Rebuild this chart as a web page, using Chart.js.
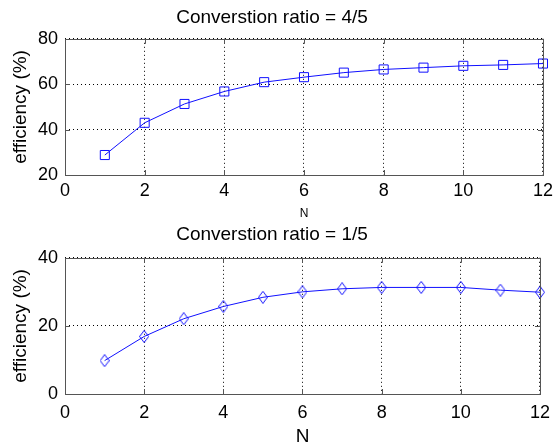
<!DOCTYPE html>
<html>
<head>
<meta charset="utf-8">
<script src="https://cdn.jsdelivr.net/npm/chart.js@4.4.0/dist/chart.umd.min.js"></script>
<style>
  body { margin: 0; background: #fff; }
  #wrap { position: relative; width: 558px; height: 448px; overflow: hidden; }
  canvas { position: absolute; left: 0; }
  #topChart { top: 0; }
  #bottomChart { top: 215px; }
</style>
</head>
<body>
<div id="wrap">
  <canvas id="topChart" width="558" height="224"></canvas>
  <canvas id="bottomChart" width="558" height="233"></canvas>
</div>
<script>
var nValues = [1, 2, 3, 4, 5, 6, 7, 8, 9, 10, 11, 12];
var effTop = [28.8, 43.0, 51.3, 56.8, 60.9, 63.1, 65.1, 66.5, 67.3, 68.1, 68.5, 69.1];
var effBottom = [9.8, 16.9, 22.1, 25.7, 28.4, 30.0, 30.9, 31.3, 31.3, 31.3, 30.5, 29.9];
var topTitle = "Converstion ratio = 4/5";
var bottomTitle = "Converstion ratio = 1/5";
var yLabel = "efficiency (%)";
var xLabel = "N";

var FONT = "'Liberation Sans', Arial, Helvetica, sans-serif";
var BLUE = "#1010ff";

// matlab style diamond marker (taller than wide)
function diamondMarker() {
    var c = document.createElement("canvas");
    c.width = 10;
    c.height = 13;
    var g = c.getContext("2d");
    g.strokeStyle = BLUE;
    g.lineWidth = 1;
    g.beginPath();
    g.moveTo(5, 0.5);
    g.lineTo(9.5, 6.5);
    g.lineTo(5, 12.5);
    g.lineTo(0.5, 6.5);
    g.closePath();
    g.stroke();
    return c;
}

// box round the axes and the short inward ticks
var boxPlugin = {
    id: "box",
    afterDraw: function (chart) {
        var ctx = chart.ctx;
        var a = chart.chartArea;
        var xs = chart.scales.x;
        var ys = chart.scales.y;
        ctx.save();
        ctx.strokeStyle = "#555";
        ctx.lineWidth = 1;
        ctx.strokeRect(Math.round(a.left) + 0.5, Math.round(a.top) + 0.5,
            Math.round(a.right - a.left), Math.round(a.bottom - a.top));
        ctx.beginPath();
        xs.ticks.forEach(function (t) {
            var px = Math.round(xs.getPixelForValue(t.value)) + 0.5;
            ctx.moveTo(px, a.bottom);
            ctx.lineTo(px, a.bottom - 5);
            ctx.moveTo(px, a.top);
            ctx.lineTo(px, a.top + 5);
        });
        ys.ticks.forEach(function (t) {
            var py = Math.round(ys.getPixelForValue(t.value)) + 0.5;
            ctx.moveTo(a.left, py);
            ctx.lineTo(a.left + 5, py);
            ctx.moveTo(a.right, py);
            ctx.lineTo(a.right - 5, py);
        });
        ctx.stroke();
        ctx.restore();
    }
};

function makeChart(id, title, values, yMin, yMax, marker, cfg) {
    var points = [];
    for (var i = 0; i < nValues.length; i++) {
        points.push({ x: nValues[i], y: values[i] });
    }
    var ctx = document.getElementById(id).getContext("2d");
    return new Chart(ctx, {
        type: "line",
        data: {
            datasets: [{
                data: points,
                borderColor: BLUE,
                borderWidth: 1,
                backgroundColor: "rgba(0,0,0,0)",
                pointStyle: marker.style,
                pointRadius: marker.radius,
                pointBorderWidth: 1,
                pointBorderColor: BLUE,
                pointBackgroundColor: "rgba(0,0,0,0)",
                tension: 0,
                clip: false
            }]
        },
        options: {
            responsive: false,
            animation: false,
            layout: { padding: { left: 0, right: 14, top: 0, bottom: 0 } },
            plugins: {
                legend: { display: false },
                tooltip: { enabled: false },
                title: {
                    display: true,
                    text: title,
                    color: "#000",
                    font: { family: FONT, size: 19, weight: "normal" },
                    padding: { top: cfg.titleTop, bottom: cfg.titleBottom }
                }
            },
            scales: {
                x: {
                    type: "linear",
                    min: 0,
                    max: 12,
                    afterFit: function (s) { s.height = cfg.xHeight; },
                    ticks: {
                        stepSize: 2,
                        color: "#000",
                        padding: cfg.xTickPad,
                        maxRotation: 0,
                        font: { family: FONT, size: 18 }
                    },
                    grid: { color: "#000", lineWidth: 1, drawTicks: false },
                    border: { display: false, dash: [1, 3] },
                    title: {
                        display: true,
                        text: xLabel,
                        color: "#000",
                        font: { family: FONT, size: cfg.xTitleSize },
                        padding: { top: 0, bottom: cfg.xTitlePad }
                    }
                },
                y: {
                    min: yMin,
                    max: yMax,
                    afterFit: function (s) { s.width = 65; },
                    ticks: {
                        stepSize: 20,
                        color: "#000",
                        padding: 7,
                        font: { family: FONT, size: 18 }
                    },
                    grid: { color: "#000", lineWidth: 1, drawTicks: false },
                    border: { display: false, dash: [1, 3] },
                    title: {
                        display: true,
                        text: yLabel,
                        color: "#000",
                        font: { family: FONT, size: 19 },
                        padding: { top: 9, bottom: 0 }
                    }
                }
            }
        },
        plugins: [boxPlugin]
    });
}

makeChart("topChart", topTitle, effTop, 20, 80,
    { style: "rect", radius: 6.4 },
    { titleTop: 6, titleBottom: 10, xHeight: 49, xTickPad: 5, xTitleSize: 12, xTitlePad: 3 });

makeChart("bottomChart", bottomTitle, effBottom, 0, 40,
    { style: diamondMarker(), radius: 6 },
    { titleTop: 8, titleBottom: 12, xHeight: 54, xTickPad: 8, xTitleSize: 19, xTitlePad: 0 });
</script>
</body>
</html>
